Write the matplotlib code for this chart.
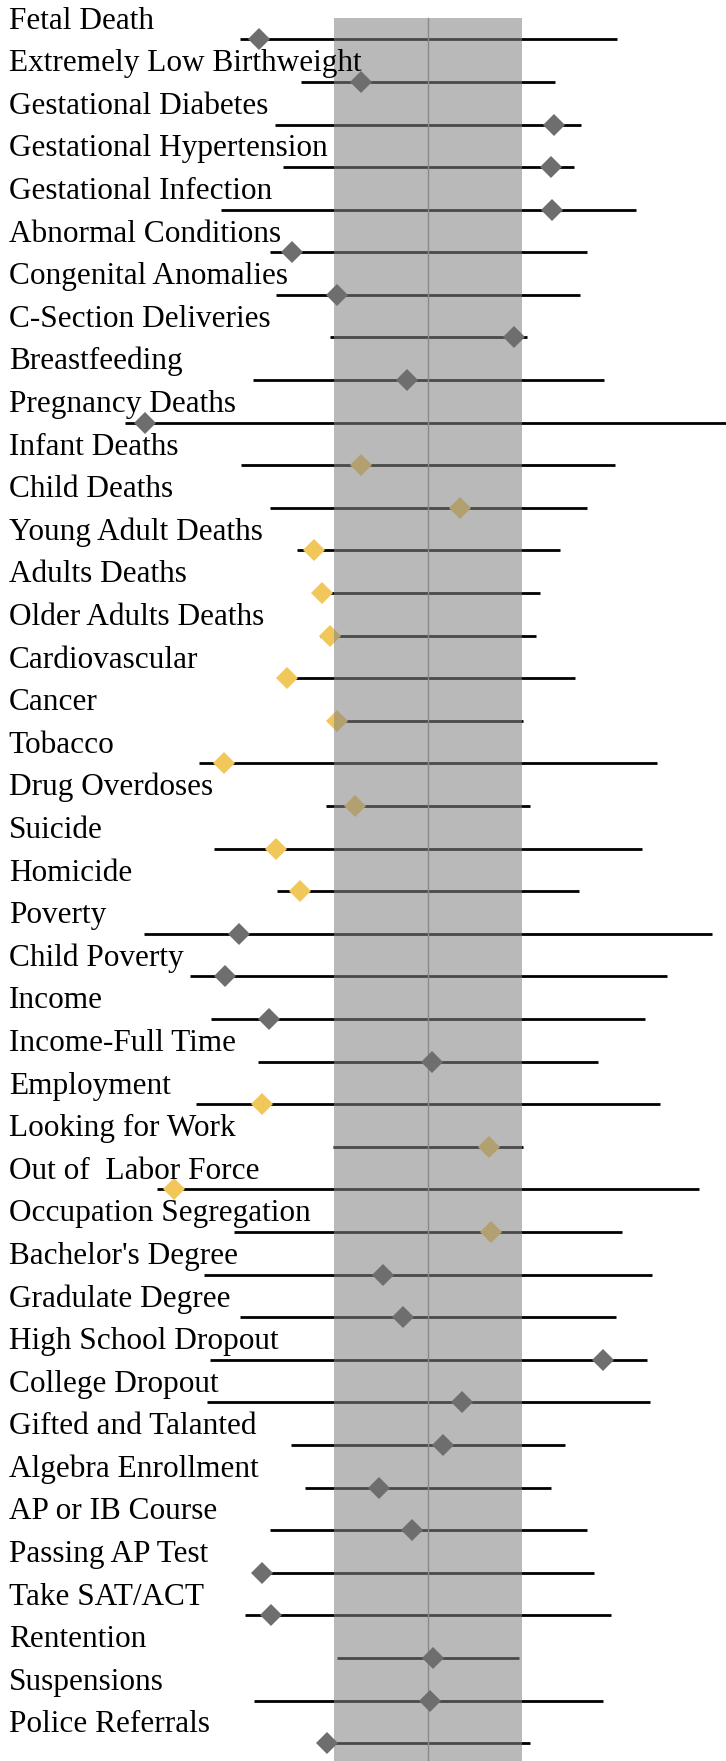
import matplotlib.pyplot as plt
import matplotlib.transforms as mtransforms

# Indicator labels, top to bottom
labels = [
    "Fetal Death", "Extremely Low Birthweight", "Gestational Diabetes",
    "Gestational Hypertension", "Gestational Infection", "Abnormal Conditions",
    "Congenital Anomalies", "C-Section Deliveries", "Breastfeeding",
    "Pregnancy Deaths", "Infant Deaths", "Child Deaths", "Young Adult Deaths",
    "Adults Deaths", "Older Adults Deaths", "Cardiovascular", "Cancer",
    "Tobacco", "Drug Overdoses", "Suicide", "Homicide", "Poverty",
    "Child Poverty", "Income", "Income-Full Time", "Employment",
    "Looking for Work", "Out of  Labor Force", "Occupation Segregation",
    "Bachelor's Degree", "Gradulate Degree", "High School Dropout",
    "College Dropout", "Gifted and Talanted", "Algebra Enrollment",
    "AP or IB Course", "Passing AP Test", "Take SAT/ACT", "Rentention",
    "Suspensions", "Police Referrals",
]

# standardized score of each indicator
scores = [
    -1.80, -0.72, 1.34, 1.31, 1.32, -1.45, -0.97, 0.91, -0.23, -3.02,
    -0.72, 0.34, -1.22, -1.13, -1.05, -1.50, -0.97, -2.18, -0.78, -1.62,
    -1.37, -2.02, -2.16, -1.70, 0.04, -1.77, 0.65, -2.71, 0.67, -0.48,
    -0.27, 1.86, 0.36, 0.16, -0.52, -0.17, -1.77, -1.67, 0.05, 0.02,
    -1.08,
]

# half-width of the range line around zero
spread = [
    2.01, 1.35, 1.63, 1.55, 2.21, 1.69, 1.62, 1.05, 1.87, 3.23,
    1.99, 1.69, 1.40, 1.19, 1.15, 1.57, 1.01, 2.44, 1.09, 2.28,
    1.61, 3.03, 2.54, 2.31, 1.81, 2.47, 1.01, 2.89, 2.07, 2.39,
    2.00, 2.33, 2.36, 1.46, 1.31, 1.69, 1.77, 1.95, 0.97, 1.86,
    1.09,
]

# marker group: "g" = highlighted (gold), "n" = normal (gray)
group = list("nnnnnnnnnn" "gggggggggg" "gnnnnggggn" "nnnnnnnnnn" "n")

GOLD = "#f2c75a"
GRAY = "#6e6e6e"

fig = plt.figure(figsize=(7.26, 17.61), dpi=100)
ax = fig.add_axes([0, 0, 1, 1])

n = len(labels)
rows = list(range(n))

# range lines
for i in rows:
    ax.plot([-spread[i], spread[i]], [i, i], color="black", lw=2.0,
            solid_capstyle="butt", zorder=2)

gold_rows = [i for i in rows if group[i] == "g"]
gray_rows = [i for i in rows if group[i] == "n"]

ax.plot([scores[i] for i in gold_rows], gold_rows, "D", color=GOLD,
        markersize=11.5, markeredgewidth=0, zorder=3)

# shaded band (translucent, over lines and gold markers)
ax.fill_betweenx([-0.5, n + 1], -1, 1, color="#838383", alpha=0.565,
                 linewidth=0, zorder=4)
ax.plot([0, 0], [-0.5, n + 1], color="#8a8a8a", lw=1.0, zorder=5)

ax.plot([scores[i] for i in gray_rows], gray_rows, "D", color=GRAY,
        markersize=11.5, markeredgewidth=0, zorder=6)

# labels above each line
trans = mtransforms.blended_transform_factory(ax.transAxes, ax.transData)
for i, lab in enumerate(labels):
    ax.text(0.012, i - 0.25, lab, transform=trans, ha="left", va="baseline",
            fontsize=22.5, family="Liberation Serif", color="black", zorder=7)

ax.set_xlim(-4.563, 3.174)
ax.set_ylim(40.42, -0.923)
ax.axis("off")

fig.savefig("out.png", dpi=100)
